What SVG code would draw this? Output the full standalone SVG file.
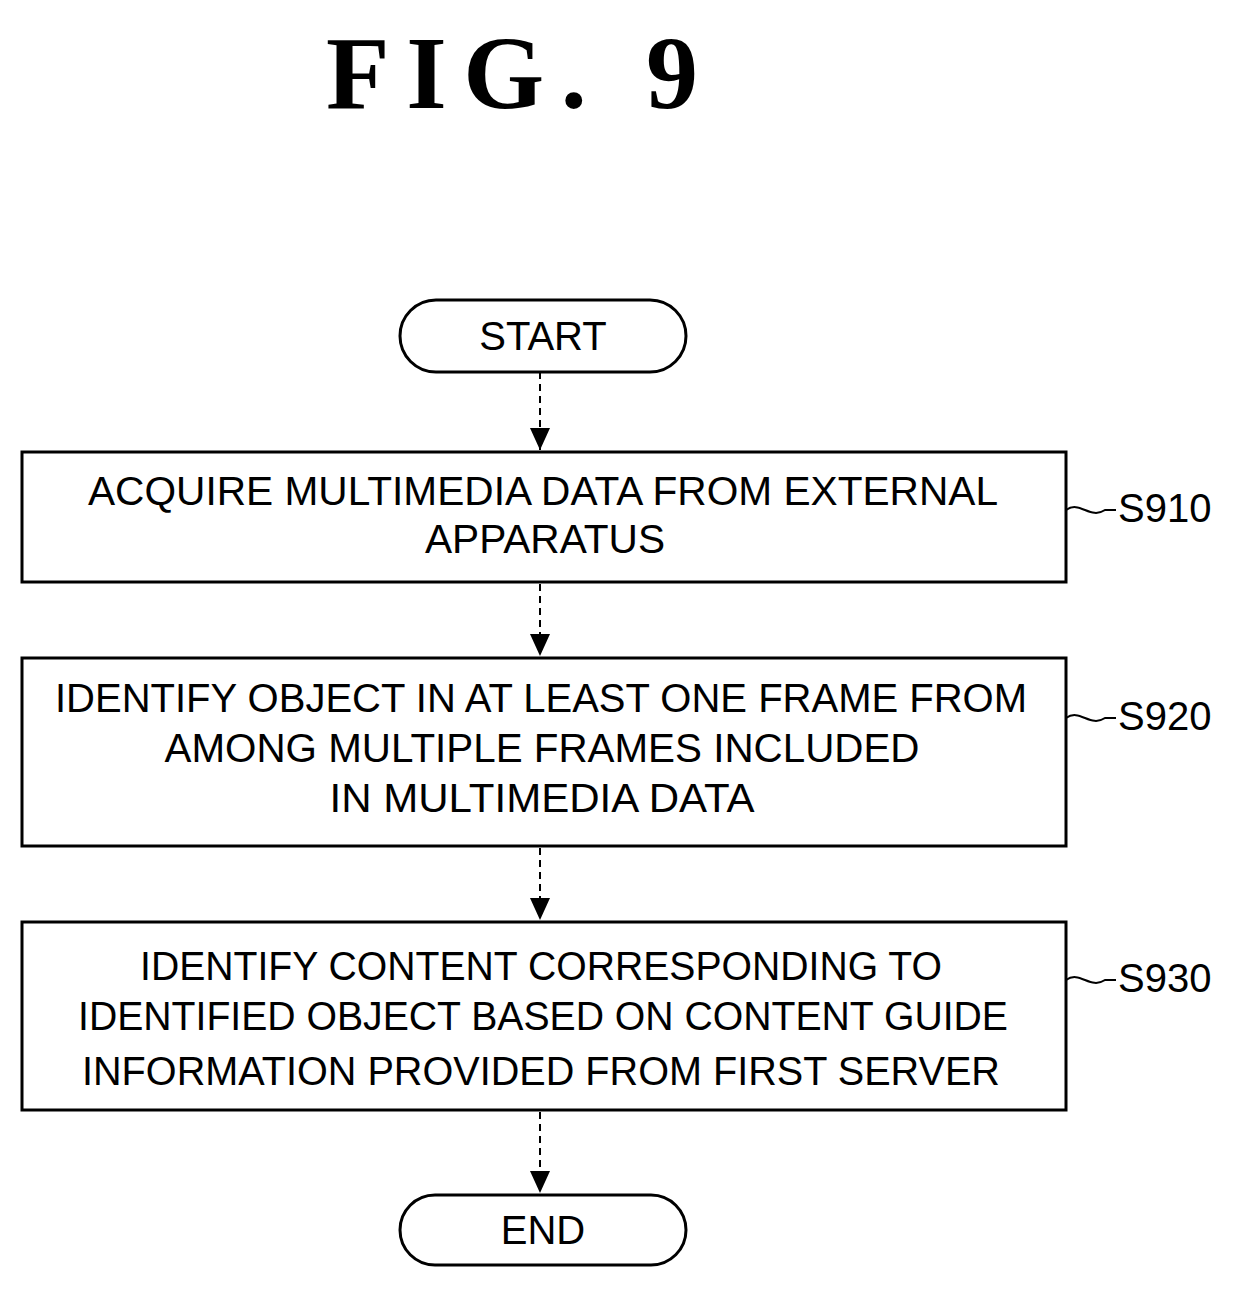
<svg xmlns="http://www.w3.org/2000/svg" width="1238" height="1300" viewBox="0 0 1238 1300">
<style>
.b{fill:#fff;stroke:#000;stroke-width:3}
.t{font-family:"Liberation Sans",Arial,sans-serif;font-size:40px;text-anchor:middle;fill:#000}
.l{font-family:"Liberation Sans",Arial,sans-serif;font-size:40px;fill:#000}
.c{stroke:#000;stroke-width:2;stroke-dasharray:7,5;fill:none}
.s{stroke:#000;stroke-width:2;fill:none}
</style>
<defs><marker id="h" markerWidth="22" markerHeight="20" refX="22" refY="10" orient="auto" markerUnits="userSpaceOnUse" viewBox="0 0 22 20"><path d="M0,0L22,10L0,20z" fill="#000"/></marker></defs>
<text x="512" y="108" font-family="Liberation Serif,serif" font-size="104" font-weight="bold" text-anchor="middle" textLength="372" lengthAdjust="spacing">FIG. 9</text>
<g id="start"><rect class="b" x="400" y="300" width="286" height="72" rx="36"/><text class="t" x="543" y="350">START</text></g>
<g id="s910"><rect class="b" x="22" y="452" width="1044" height="130"/><text class="t" x="543" y="505" textLength="910" lengthAdjust="spacingAndGlyphs">ACQUIRE MULTIMEDIA DATA FROM EXTERNAL</text><text class="t" x="545" y="553" textLength="240" lengthAdjust="spacingAndGlyphs">APPARATUS</text><path class="s" d="M1066,510 C1080,500 1090,520 1105,510 L1116,510"/><text class="l" x="1118" y="522">S910</text></g>
<g id="s920"><rect class="b" x="22" y="658" width="1044" height="188"/><text class="t" x="541" y="712" textLength="972" lengthAdjust="spacingAndGlyphs">IDENTIFY OBJECT IN AT LEAST ONE FRAME FROM</text><text class="t" x="542" y="762" textLength="755" lengthAdjust="spacingAndGlyphs">AMONG MULTIPLE FRAMES INCLUDED</text><text class="t" x="542" y="812" textLength="425" lengthAdjust="spacingAndGlyphs">IN MULTIMEDIA DATA</text><path class="s" d="M1066,718 C1080,708 1090,728 1105,718 L1116,718"/><text class="l" x="1118" y="730">S920</text></g>
<g id="s930"><rect class="b" x="22" y="922" width="1044" height="188"/><text class="t" x="541" y="980" textLength="802" lengthAdjust="spacingAndGlyphs">IDENTIFY CONTENT CORRESPONDING TO</text><text class="t" x="543" y="1030" textLength="930" lengthAdjust="spacingAndGlyphs">IDENTIFIED OBJECT BASED ON CONTENT GUIDE</text><text class="t" x="541" y="1085" textLength="918" lengthAdjust="spacingAndGlyphs">INFORMATION PROVIDED FROM FIRST SERVER</text><path class="s" d="M1066,980 C1080,970 1090,990 1105,980 L1116,980"/><text class="l" x="1118" y="992">S930</text></g>
<g id="end"><rect class="b" x="400" y="1195" width="286" height="70" rx="35"/><text class="t" x="543" y="1244">END</text></g>
<g id="connectors">
<path class="c" d="M540,372V450" marker-end="url(#h)"/>
<path class="c" d="M540,584V656" marker-end="url(#h)"/>
<path class="c" d="M540,848V920" marker-end="url(#h)"/>
<path class="c" d="M540,1112V1193" marker-end="url(#h)"/>
</g>
</svg>
